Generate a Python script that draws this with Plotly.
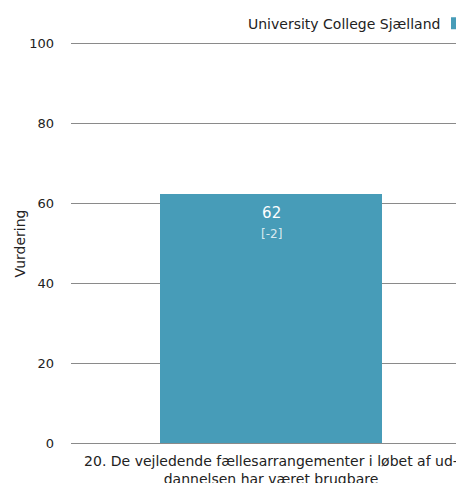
import plotly.graph_objects as go

categories = ["20. De vejledende fællesarrangementer i løbet af ud-<br>dannelsen har været brugbare"]
values = [62.4]
value_labels = ["62"]
diff_labels = ["[-2]"]
series_name = "University College Sjælland"
y_ticks = [0, 20, 40, 60, 80, 100]

FONT = "DejaVu Sans, sans-serif"
BAR_COLOR = "#479cb8"

fig = go.Figure()
fig.add_trace(go.Bar(
    x=[0], y=values, name="\u00a0", width=0.557,
    marker=dict(color=BAR_COLOR, line=dict(width=0)),
    showlegend=True, hoverinfo="skip",
))

for i, (v, lab, d) in enumerate(zip(values, value_labels, diff_labels)):
    fig.add_annotation(
        x=i, y=v, xref="x", yref="y", yanchor="top", xanchor="center",
        yshift=-8, showarrow=False,
        text=f"{lab}<br><span style='font-size:12px;color:rgba(255,255,255,0.8)'>{d}</span>",
        font=dict(color="white", size=15, family=FONT),
    )

# legend label text (the legend swatch sits to its right)
fig.add_annotation(
    x=0.9275, y=1.0457, xref="paper", yref="paper", xanchor="right", yanchor="middle",
    showarrow=False, text=series_name, font=dict(size=14, color="#222222", family=FONT),
)

fig.update_layout(
    width=470, height=475,
    margin=dict(l=63, r=7, t=34, b=38, autoexpand=False),
    paper_bgcolor="white", plot_bgcolor="white",
    font=dict(family=FONT, size=13, color="#333333"),
    showlegend=True,
    legend=dict(
        orientation="h", x=0.915, xanchor="left", y=1.0457, yanchor="middle",
        font=dict(size=14), itemwidth=30, bgcolor="rgba(0,0,0,0)",
    ),
    xaxis=dict(
        tickmode="array", tickvals=[0], ticktext=categories,
        range=[-0.5, 0.5], showgrid=False, zeroline=False,
        showline=False, ticks="", ticklabelstandoff=6,
        tickfont=dict(size=14, color="#222222"),
        fixedrange=True,
    ),
    yaxis=dict(
        range=[-0.4, 100.4], tickvals=y_ticks, showgrid=True, gridcolor="#8a8a8a", gridwidth=1,
        zeroline=False, showline=False, ticks="", ticklabelstandoff=16,
        tickfont=dict(size=13, color="#222222"),
        title=dict(text="Vurdering", font=dict(size=14, color="#222222"), standoff=0),
        fixedrange=True,
    ),
    bargap=0,
)

fig.write_html("out.html")
